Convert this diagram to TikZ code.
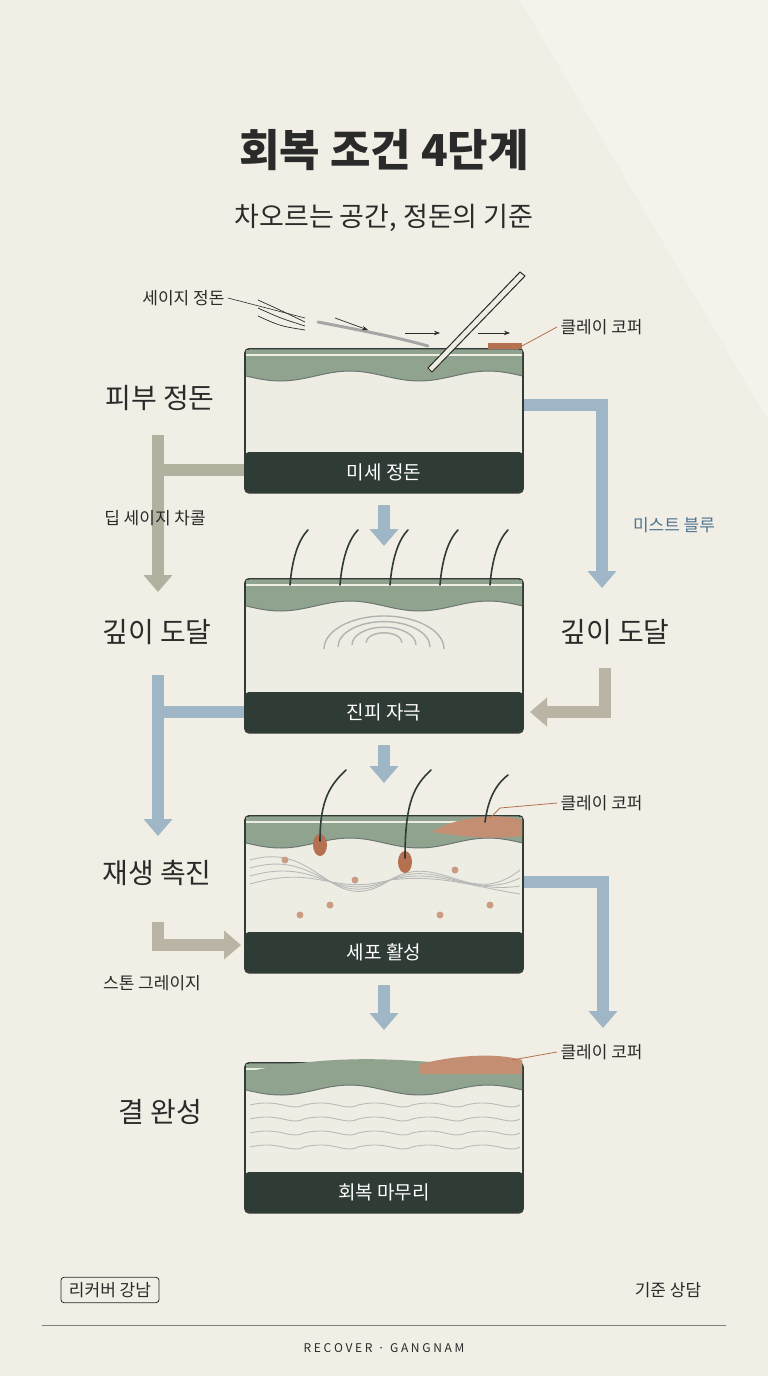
\documentclass[tikz,border=0pt]{standalone}
\usepackage{fontspec}
\setmainfont{Noto Sans CJK KR}
\usetikzlibrary{arrows.meta,positioning}
\definecolor{cream}{HTML}{F1EEE5}
\definecolor{sage}{HTML}{8FA38E}
\definecolor{charcoal}{HTML}{2F3B35}
\definecolor{paper}{HTML}{EEEDE3}
\definecolor{mist}{HTML}{9FB6C6}
\definecolor{stone}{HTML}{B9B4A4}
\definecolor{copper}{HTML}{B5714F}
\definecolor{ink}{HTML}{2A2A2A}
\definecolor{mistText}{HTML}{4F7391}
\tikzset{
	panel/.style={draw=charcoal, line width=1.6pt, fill=paper, rounded corners=4pt, minimum width=278pt, inner sep=0pt},
	stepLabel/.style={font=\fontsize{28}{30}\selectfont, text=ink},
	smallLabel/.style={font=\fontsize{17}{19}\selectfont, text=ink},
	bandLabel/.style={font=\fontsize{19}{21}\selectfont, text=white},
	mistArrow/.style={draw=mist, line width=12pt, -{Triangle[width=28pt,length=17pt]}},
	stoneArrow/.style={draw=stone, line width=12pt, -{Triangle[width=28pt,length=17pt]}},
	sageArrow/.style={draw=stone!80!sage, line width=12pt, -{Triangle[width=28pt,length=17pt]}},
	hair/.style={draw=charcoal, line width=1.6pt, line cap=round},
	fiber/.style={draw=gray!55, line width=0.9pt},
}
\begin{document}
\begin{tikzpicture}[x=1pt, y=-1pt]
	\useasboundingbox (0,0) rectangle (768,1376);
	\fill[cream] (0,0) rectangle (768,1376);
	\fill[white, opacity=0.25] (520,0) -- (768,0) -- (768,420) -- cycle;
	%title
	\node[font=\fontsize{44}{46}\selectfont\bfseries, text=ink] (title) at (384,150) {회복 조건 4단계};
	\node[font=\fontsize{27}{29}\selectfont, text=ink] (subtitle) at (384,218) {차오르는 공간, 정돈의 기준};
	%panels
	\foreach \i/\y/\h/\lab in {1/348/144/미세 정돈, 2/578/154/진피 자극, 3/815/157/세포 활성, 4/1062/150/회복 마무리}{
		\node[panel, minimum height=\h pt, anchor=north] (p\i) at (384,\y) {};
		\fill[sage] (246,\y+2) -- (522,\y+2) -- (522,\y+28)
			-- plot[domain=522:246, samples=40] (\x,{\y+28+5*sin(2.6*(\x-246))}) -- cycle;
		\draw[paper, line width=2pt] (246,\y+7) -- (522,\y+7);
		\draw[charcoal!70, line width=1pt] plot[domain=246:522, samples=40] (\x,{\y+28+5*sin(2.6*(\x-246))});
		\fill[charcoal, rounded corners=4pt] (245,\y+\h-40) -- (523,\y+\h-40) -- (523,\y+\h) -- (245,\y+\h) -- cycle;
		\node[bandLabel] (b\i) at (384,\y+\h-20) {\lab};
	}
	%panel 1 extras
	\fill[copper] (488,343) rectangle (522,349);
	\draw[gray!70, line width=3pt, line cap=round] (318,322) .. controls (360,330) and (400,338) .. (428,346);
	\foreach \d in {0,8,16}
		\draw[ink, line width=0.7pt] (258,300+\d) .. controls (280,310+\d) .. (305,322+\d/2);
	\draw[ink, line width=0.7pt, -{Stealth[length=6pt]}] (335,318) -- (368,330);
	\draw[ink, line width=0.7pt, -{Stealth[length=6pt]}] (405,333) -- (440,333);
	\draw[ink, line width=0.7pt, -{Stealth[length=6pt]}] (478,333) -- (510,333);
	\draw[ink, line width=1pt, fill=paper] (428,368) -- (432,372) -- (525,276) -- (520,272) -- cycle;
	\coordinate (sageEnd) at (305,318);
	\node[smallLabel, anchor=east] (l1) at (228,298) {세이지 정돈};
	\draw[ink, line width=0.6pt] (l1.east) -- (sageEnd);
	\node[smallLabel, anchor=west] (c1) at (557,327) {클레이 코퍼};
	\draw[copper, line width=0.8pt] (c1.west) -- (522,346);
	%panel 2 extras
	\foreach \x in {290,340,390,440,490}
		\draw[hair] (\x,585) .. controls (\x+2,560) and (\x+8,540) .. (\x+18,530);
	\foreach \r in {18,32,46,60}
		\draw[gray!60, line width=1.4pt] (384-\r,640+\r*0.15) arc[start angle=180, end angle=360, x radius=\r, y radius=\r*0.55];
	%panel 3 extras
	\fill[copper!80] (432,832) .. controls (460,814) and (505,814) .. (522,820) -- (522,836) .. controls (490,840) and (460,836) .. (432,832) -- cycle;
	\foreach \o in {0,8,16,24}{
		\draw[fiber] (250,860+\o) .. controls (320,840+\o) and (330,920-\o) .. (390,880) .. controls (440,850+\o) and (470,910-\o) .. (520,870+\o);
	}
	\foreach \px/\py in {285/860, 330/905, 355/880, 455/870, 490/905, 300/915, 440/915}
		\fill[copper!70] (\px,\py) circle (3.5);
	\foreach \x/\b in {320/845,405/862}{
		\fill[copper] (\x,\b) ellipse (7 and 11);
		\draw[hair] (\x,\b-4) .. controls (\x,800) and (\x+10,785) .. (\x+26,770);
	}
	\draw[hair] (485,822) .. controls (488,800) and (495,785) .. (508,775);
	\node[smallLabel, anchor=west] (c3) at (557,803) {클레이 코퍼};
	\draw[copper, line width=0.8pt] (c3.west) -- (500,808) -- (490,818);
	%panel 4 extras
	\fill[sage] (246,1072) .. controls (320,1056) and (380,1058) .. (430,1062) -- (430,1074) -- (246,1074) -- cycle;
	\fill[copper!80] (420,1064) .. controls (470,1052) and (505,1055) .. (522,1060) -- (522,1074) -- (420,1074) -- cycle;
	\foreach \o in {0,14,28,42}{
		\draw[fiber] (250,1105+\o) \foreach \k in {0,1,2,3,4} { .. controls (280+\k*54,1098+\o) and (290+\k*54,1112+\o) .. (304+\k*54,1105+\o) };
	}
	\node[smallLabel, anchor=west] (c4) at (557,1052) {클레이 코퍼};
	\draw[copper, line width=0.8pt] (c4.west) -- (512,1060);
	%center arrows
	\foreach \a/\b in {p1/p2, p2/p3, p3/p4}
		\draw[mistArrow, shorten <=11pt, shorten >=32pt] (\a.south) -- (\b.north);
	%left labels
	\node[stepLabel] (s1) at (160,398) {피부 정돈};
	\node[stepLabel] (s2) at (157,632) {깊이 도달};
	\node[stepLabel] (s3) at (157,873) {재생 촉진};
	\node[stepLabel] (s4) at (160,1112) {결 완성};
	\node[stepLabel] (r2) at (615,632) {깊이 도달};
	%left arrows
	\draw[sageArrow] (158,435) -- (158,592);
	\draw[draw=stone!80!sage, line width=12pt] (152,470) -- (p1.west |- 0,470);
	\node[smallLabel] (l2) at (155,518) {딥 세이지 차콜};
	\draw[mistArrow] (158,675) -- (158,836);
	\draw[draw=mist, line width=12pt] (152,712) -- (p2.west |- 0,712);
	\draw[stoneArrow] (158,922) -- (158,945) -- (241,945);
	\node[smallLabel] (l3) at (152,983) {스톤 그레이지};
	%right arrows
	\draw[mistArrow] (p1.east |- 0,405) -- (602,405) -- (602,588);
	\node[smallLabel, text=mistText] (m1) at (674,525) {미스트 블루};
	\draw[stoneArrow] (605,668) -- (605,712) -- (530,712);
	\draw[mistArrow] (p3.east |- 0,882) -- (603,882) -- (603,1028);
	%footer
	\node[smallLabel, draw=ink, line width=0.8pt, rounded corners=3pt, inner xsep=8pt, inner ysep=5pt] (brand) at (110,1290) {리커버 강남};
	\node[smallLabel] (consult) at (668,1290) {기준 상담};
	\draw[gray, line width=0.6pt] (42,1325) -- (726,1325);
	\node[font=\fontsize{12}{14}\selectfont, text=ink] (footer) at (384,1348) {R E C O V E R \ · \ G A N G N A M};
\end{tikzpicture}
\end{document}
